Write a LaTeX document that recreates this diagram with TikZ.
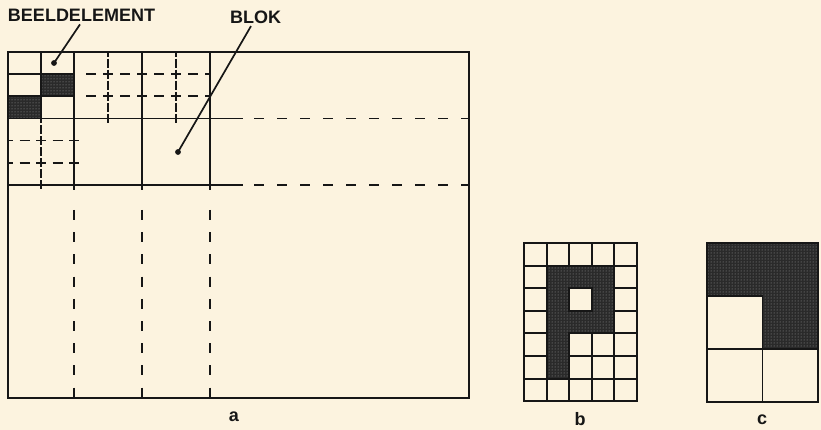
\documentclass[tikz,border=0pt]{standalone}
\usepackage{fontspec}
\setmainfont{Liberation Sans}
\usetikzlibrary{patterns}
\definecolor{paper}{HTML}{FCF3DF}
\definecolor{ink}{HTML}{161616}
\definecolor{shade}{HTML}{2A2A2A}
\tikzset{
  frameline/.style={draw=ink,line width=2.2pt},
  gridline/.style={draw=ink,line width=1.9pt},
  thingrid/.style={draw=ink,line width=1.5pt},
  fdash/.style={draw=ink,line width=1.6pt},
  bdash/.style={draw=ink,line width=1.8pt},
  screen/.style={fill=shade},
  screendots/.style={pattern=dots,pattern color=white!55!shade},
  lbl/.style={font=\fontsize{18}{21}\selectfont\bfseries,text=ink,inner sep=1pt},
  leader/.style={draw=ink,line width=1.7pt},
  dotmark/.style={fill=ink}
}
\begin{document}
\begin{tikzpicture}[x=1pt,y=-1pt]
\fill[paper] (0,0) rectangle (821,430);
\useasboundingbox (0,0) rectangle (821,430);

% ---------- figure a ----------
% shaded picture elements
\fill[screen] (41,74.2) rectangle (74,96.3);
\fill[screendots] (41,74.2) rectangle (74,96.3);
\fill[screen] (8,96.3) rectangle (41,118.5);
\fill[screendots] (8,96.3) rectangle (41,118.5);

% solid block and element lines
\foreach \x in {74,142,210} \draw[gridline] (\x,52) -- (\x,190);
\draw[gridline] (41,52) -- (41,118.5);
\draw[gridline] (8,74.2) -- (74,74.2);
\draw[gridline] (8,96.3) -- (74,96.3);
\draw[gridline] (8,118.5) -- (243,118.5);
\draw[gridline] (8,185) -- (243,185);

% fine dashes in the top blocks
\foreach \y in {74.2,96.3}{
  \foreach \c in {91,108,125,142,159,176,193}
    \draw[fdash] (\c-5,\y) -- (\c+5,\y);
  \draw[fdash] (205,\y) -- (210,\y);
}
\foreach \x in {108,176}{
  \draw[fdash] (\x,52) -- (\x,57);
  \foreach \k in {1,...,6}
    \draw[fdash] (\x,52+11.08*\k-4.5) -- (\x,52+11.08*\k+4.5);
}
% fine dashes in the left block below
\foreach \y in {140.7,162.8}{
  \draw[fdash] (8,\y) -- (13,\y);
  \foreach \k in {1,...,4}
    \draw[fdash] (8+16.5*\k-5,\y) -- (8+16.5*\k+5,\y);
}
\foreach \k in {0,...,6}
  \draw[fdash] (41,118.5+11.08*\k-4.5) -- (41,118.5+11.08*\k+4.5);

% long dashes
\foreach \x in {74,142,210}
  \foreach \k in {0,...,8}
    \draw[bdash] (\x,{215+22.2*\k-5}) -- (\x,{min(215+22.2*\k+5,398)});
\foreach \y in {118.5,185}
  \foreach \k in {0,...,9}
    \draw[bdash] ({259+23*\k-5},\y) -- ({min(259+23*\k+5,469)},\y);

% frame
\draw[frameline] (8,52) rectangle (469,398);

% labels and leaders
\node[lbl] (lblE) at (81.5,15.5) {BEELDELEMENT};
\node[lbl] (lblB) at (255.5,17) {BLOK};
\coordinate (dotE) at (54,63);
\coordinate (dotB) at (178,152);
\draw[leader] ([shift={(-1.5,1.5)}]lblE.south) -- (dotE);
\draw[leader] ([shift={(-4.5,1.5)}]lblB.south) -- (dotB);
\fill[dotmark] (dotE) circle (2.9);
\fill[dotmark] (dotB) circle (2.9);
\node[lbl] (lblA) at (234,417) {a};

% ---------- figure b ----------
\begin{scope}[shift={(524pt,-243pt)},x=22.6pt,y=-22.6pt]
  \foreach \i in {0,...,5} \draw[gridline] (\i,0) -- (\i,7);
  \foreach \j in {0,...,7} \draw[gridline] (0,\j) -- (5,\j);
  \fill[screen,even odd rule] (1,1) -- (4,1) -- (4,4) -- (2,4) -- (2,6) -- (1,6) -- cycle (2,2) rectangle (3,3);
  \fill[screendots,even odd rule] (1,1) -- (4,1) -- (4,4) -- (2,4) -- (2,6) -- (1,6) -- cycle (2,2) rectangle (3,3);
  \draw[gridline] (1,1) -- (4,1) -- (4,4) -- (2,4) -- (2,6) -- (1,6) -- cycle (2,2) rectangle (3,3);
  \draw[frameline] (0,0) rectangle (5,7);
\end{scope}
\node[lbl] (lblb) at (580,419) {b};

% ---------- figure c ----------
\begin{scope}[shift={(707pt,-243pt)},x=55.5pt,y=-53pt]
  \fill[screen] (0,0) -- (2,0) -- (2,2) -- (1,2) -- (1,1) -- (0,1) -- cycle;
  \fill[screendots] (0,0) -- (2,0) -- (2,2) -- (1,2) -- (1,1) -- (0,1) -- cycle;
  \draw[thingrid] (0,1) -- (1,1) -- (1,3);
  \draw[thingrid] (0,2) -- (2,2);
  \draw[thingrid] (0,0) rectangle (2,3);
\end{scope}
\node[lbl] (lblc) at (762,420) {c};
\end{tikzpicture}
\end{document}
